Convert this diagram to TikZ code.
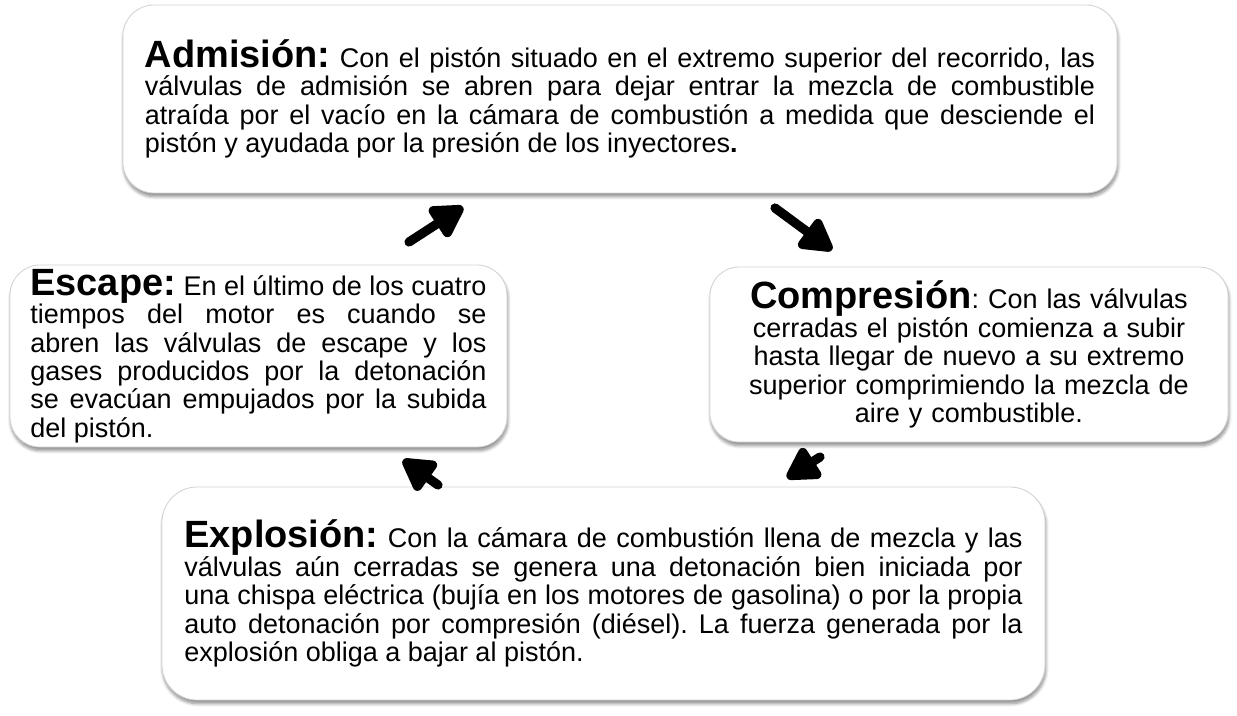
\documentclass[tikz,border=0pt]{standalone}
\usepackage{fontspec}
\setmainfont{Liberation Sans}
\usetikzlibrary{arrows.meta,shadows.blur}
\setlength{\parindent}{0pt}
\hyphenpenalty=10000
\frenchspacing
\newcommand{\bodyfont}{\fontsize{19.2}{20.2}\selectfont}
\newcommand{\stagehead}[1]{{\fontsize{27}{28}\selectfont\bfseries #1}}

\begin{document}
\begin{tikzpicture}[x=0.025cm, y=-0.025cm,
    stagebox/.style={draw=gray!35, line width=0.6pt, fill=white, font=\bodyfont,
        inner xsep=0.55cm, inner ysep=0pt,
        blur shadow={shadow xshift=0.6pt, shadow yshift=-2.6pt, shadow opacity=45, shadow blur steps=8, shadow blur radius=2.2pt}},
    flow/.style={line width=0.23cm, line cap=round, -{Triangle[length=0.92cm, width=0.98cm, round]}}]
    \useasboundingbox (0,0) rectangle (1237,716);
    % the four strokes of the engine
    \node[stagebox, rounded corners=0.78cm, text width=23.75cm, minimum height=4.7cm, align=justify] (adm) at (620,99)
        {\stagehead{Admisión:} Con el pistón situado en el extremo superior del recorrido, las\linebreak
         válvulas de admisión se abren para dejar entrar la mezcla de combustible\linebreak
         atraída por el vacío en la cámara de combustión a medida que desciende el\linebreak
         pistón y ayudada por la presión de los inyectores\textbf{.}};
    \node[stagebox, rounded corners=0.75cm, text width=11.4cm, inner xsep=0.51cm, minimum height=4.55cm, align=justify] (esc) at (258.5,356)
        {\stagehead{Escape:} En el último de los cuatro\linebreak
         tiempos del motor es cuando se\linebreak
         abren las válvulas de escape y los\linebreak
         gases producidos por la detonación\linebreak
         se evacúan empujados por la subida\linebreak
         del pistón.};
    \node[stagebox, rounded corners=0.73cm, text width=11.85cm, minimum height=4.375cm, align=center] (comp) at (969,354.5)
        {\stagehead{Compresión}: Con las válvulas\\
         cerradas el pistón comienza a subir\\
         hasta llegar de nuevo a su extremo\\
         superior comprimiendo la mezcla de\\
         aire y combustible.};
    \node[stagebox, rounded corners=0.88cm, text width=20.95cm, inner xsep=0.56cm, minimum height=5.325cm, align=justify] (expl) at (603.5,593.5)
        {\stagehead{Explosión:} Con la cámara de combustión llena de mezcla y las\linebreak
         válvulas aún cerradas se genera una detonación bien iniciada por\linebreak
         una chispa eléctrica (bujía en los motores de gasolina) o por la propia\linebreak
         auto detonación por compresión (diésel). La fuerza generada por la\linebreak
         explosión obliga a bajar al pistón.};
    % arrows between the boxes
    \coordinate (escOut) at (409,242);
    \coordinate (admIn) at (463,207);
    \coordinate (admOut) at (775,208);
    \coordinate (compIn) at (832,250);
    \coordinate (compOut) at (820,457);
    \coordinate (explIn) at (787,478);
    \coordinate (explOut) at (438,485);
    \coordinate (escIn) at (403,460);
    \draw[flow] (escOut) -- (admIn);
    \draw[flow] (admOut) -- (compIn);
    \draw[flow] (compOut) -- (explIn);
    \draw[flow] (explOut) -- (escIn);
\end{tikzpicture}
\end{document}
